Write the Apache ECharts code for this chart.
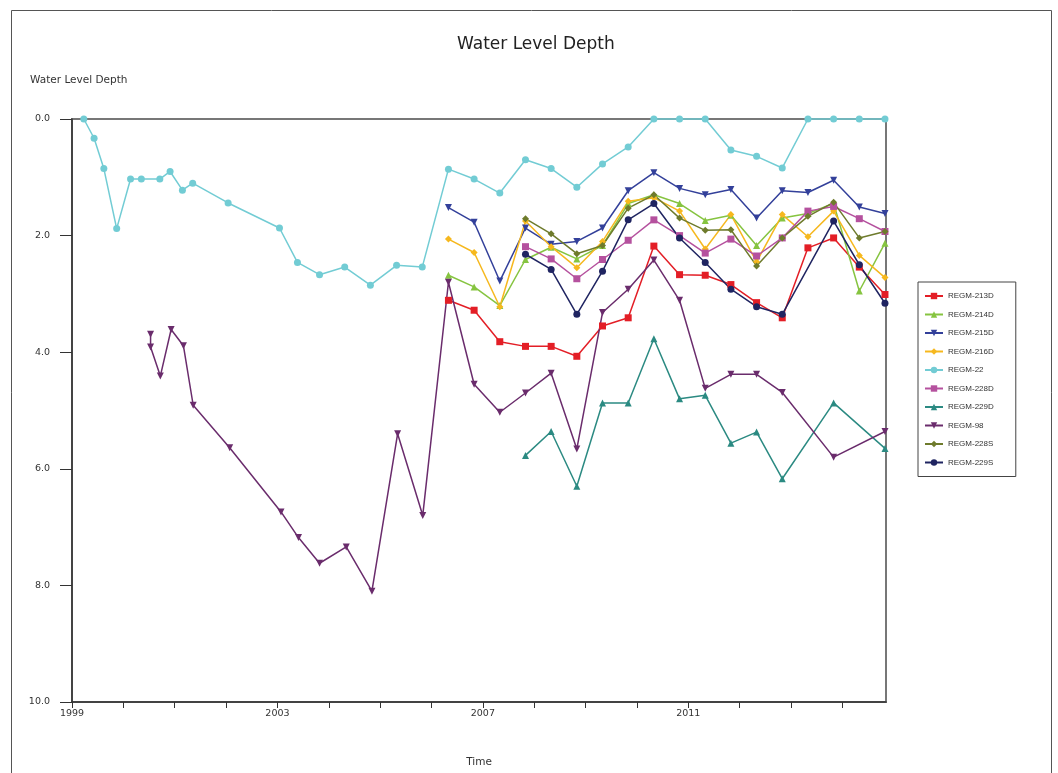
<!DOCTYPE html>
<html>
<head>
<meta charset="utf-8">
<script src="https://cdn.jsdelivr.net/npm/echarts@6/dist/echarts.min.js"></script>
<style>html,body{margin:0;padding:0;background:#fff}#c{width:1058px;height:773px}</style>
</head>
<body>
<div id="c"></div>
<script>
// Semiannual sampling dates shared by the monitoring wells (decimal years)
const dates = [2006.33, 2006.83, 2007.33, 2007.83, 2008.33, 2008.83, 2009.33, 2009.83, 2010.33, 2010.83, 2011.33, 2011.83, 2012.33, 2012.83, 2013.33, 2013.83, 2014.33, 2014.83];

const regm213D = [3.11, 3.28, 3.82, 3.90, 3.90, 4.07, 3.55, 3.41, 2.18, 2.67, 2.68, 2.84, 3.15, 3.41, 2.21, 2.04, 2.54, 3.01];
const regm214D = [2.68, 2.88, 3.20, 2.41, 2.20, 2.40, 2.17, 1.45, 1.30, 1.45, 1.74, 1.65, 2.17, 1.70, 1.62, 1.45, 2.95, 2.13];
const regm215D = [1.52, 1.77, 2.78, 1.87, 2.15, 2.10, 1.87, 1.23, 0.92, 1.19, 1.30, 1.21, 1.70, 1.23, 1.26, 1.05, 1.51, 1.62];
const regm216D = [2.06, 2.29, 3.22, 1.75, 2.19, 2.55, 2.10, 1.41, 1.35, 1.58, 2.23, 1.64, 2.45, 1.64, 2.02, 1.58, 2.34, 2.72];
const regm22 = [0.86, 1.03, 1.27, 0.70, 0.85, 1.17, 0.77, 0.48, 0.00, 0.00, 0.00, 0.53, 0.64, 0.84, 0.00, 0.00, 0.00, 0.00];
const regm228D = [null, null, null, 2.19, 2.40, 2.74, 2.41, 2.08, 1.73, 2.00, 2.30, 2.06, 2.35, 2.04, 1.58, 1.50, 1.71, 1.93];
const regm229D = [null, null, null, 5.77, 5.36, 6.30, 4.87, 4.87, 3.77, 4.80, 4.74, 5.56, 5.37, 6.17, null, 4.87, null, 5.65];
const regm98 = [2.80, 4.55, 5.03, 4.70, 4.36, 5.66, 3.32, 2.92, 2.42, 3.11, 4.62, 4.38, 4.38, 4.69, null, 5.80, null, 5.36];
const regm228S = [null, null, null, 1.71, 1.97, 2.31, 2.17, 1.53, 1.30, 1.70, 1.91, 1.90, 2.52, 2.04, 1.67, 1.43, 2.04, 1.93];
const regm229S = [null, null, null, 2.32, 2.58, 3.35, 2.61, 1.73, 1.45, 2.04, 2.46, 2.92, 3.22, 3.35, null, 1.75, 2.50, 3.16];

// Earlier records (before 2006)
const regm22EarlyDates = [1999.23, 1999.43, 1999.62, 1999.87, 2000.14, 2000.35, 2000.71, 2000.91, 2001.15, 2001.35, 2002.04, 2003.04, 2003.39, 2003.82, 2004.31, 2004.81, 2005.32, 2005.82];
const regm22Early = [0.00, 0.33, 0.85, 1.88, 1.03, 1.03, 1.03, 0.90, 1.22, 1.10, 1.44, 1.87, 2.46, 2.67, 2.54, 2.85, 2.51, 2.54];
const regm98EarlyDates = [2000.53, 2000.53, 2000.72, 2000.93, 2001.17, 2001.36, 2002.07, 2003.07, 2003.41, 2003.82, 2004.34, 2004.84, 2005.34, 2005.83];
const regm98Early = [3.69, 3.91, 4.41, 3.61, 3.89, 4.91, 5.64, 6.74, 7.18, 7.62, 7.34, 8.10, 5.40, 6.80];

const seriesNames = ['REGM-213D', 'REGM-214D', 'REGM-215D', 'REGM-216D', 'REGM-22', 'REGM-228D', 'REGM-229D', 'REGM-98', 'REGM-228S', 'REGM-229S'];
const xTickLabels = [1999, 2003, 2007, 2011];

function pairs(xs, ys) {
  const out = [];
  for (let i = 0; i < xs.length; i++) if (ys[i] !== null && ys[i] !== undefined) out.push([xs[i], ys[i]]);
  return out;
}

const downTri = 'path://M0,0 L10,0 L5,9 Z';
const defs = [
  { data: pairs(dates, regm213D), color: '#e31e26', symbol: 'rect' },
  { data: pairs(dates, regm214D), color: '#86c440', symbol: 'triangle' },
  { data: pairs(dates, regm215D), color: '#33409a', symbol: downTri },
  { data: pairs(dates, regm216D), color: '#f6b81e', symbol: 'diamond' },
  { data: pairs(regm22EarlyDates, regm22Early).concat(pairs(dates, regm22)), color: '#72ccd4', symbol: 'circle' },
  { data: pairs(dates, regm228D), color: '#b5519e', symbol: 'rect' },
  { data: pairs(dates, regm229D), color: '#2b8a82', symbol: 'triangle' },
  { data: pairs(regm98EarlyDates, regm98Early).concat(pairs(dates, regm98)), color: '#6a2c6c', symbol: downTri },
  { data: pairs(dates, regm228S), color: '#6e7b2c', symbol: 'diamond' },
  { data: pairs(dates, regm229S), color: '#1f2461', symbol: 'circle' }
];

const chart = echarts.init(document.getElementById('c'));
const font = 'Liberation Sans, Arial, sans-serif';
const wide = 'DejaVu Sans, Verdana, sans-serif';
chart.setOption({
  animation: false,
  backgroundColor: '#fff',
  title: [
    { text: 'Water Level Depth', left: 452, top: 31, textStyle: { fontFamily: wide, fontSize: 17, fontWeight: 'normal', color: '#222' } },
    { text: 'Water Level Depth', left: 25, top: 70, textStyle: { fontFamily: wide, fontSize: 10.5, fontWeight: 'normal', color: '#333' } }
  ],
  graphic: [
    { type: 'rect', left: 9, top: 8, shape: { width: 1040, height: 800 }, style: { fill: 'none', stroke: '#555', lineWidth: 1 }, silent: true }
  ],
  legend: {
    orient: 'vertical', left: 918, top: 282,
    data: seriesNames,
    padding: [10, 22, 10, 6], itemGap: 10.5, itemWidth: 18, itemHeight: 8,
    borderColor: '#444', borderWidth: 1,
    textStyle: { fontFamily: font, fontSize: 8, color: '#333' }
  },
  grid: { left: 72, right: 172, top: 119, bottom: 69, show: true, borderColor: '#777', borderWidth: 2 },
  xAxis: {
    type: 'value', min: 1999, max: 2014.85, interval: 1,
    name: 'Time', nameLocation: 'middle', nameGap: 55,
    nameTextStyle: { fontFamily: wide, fontSize: 10.5, color: '#333' },
    axisLine: { onZero: false, lineStyle: { color: '#333', width: 1.5 } },
    axisTick: { length: 6, lineStyle: { color: '#333' } },
    splitLine: { show: false },
    axisLabel: {
      fontFamily: wide, fontSize: 9.5, color: '#333', margin: 7, showMaxLabel: false,
      formatter: v => (xTickLabels.indexOf(Math.round(v)) >= 0 && Math.abs(v - Math.round(v)) < 1e-6 ? String(Math.round(v)) : '')
    }
  },
  yAxis: {
    type: 'value', inverse: true, min: 0, max: 10, interval: 2,
    axisLine: { show: true, onZero: false, lineStyle: { color: '#333', width: 1.5 } },
    axisTick: { show: true, length: 12, lineStyle: { color: '#333' } },
    splitLine: { show: false },
    axisLabel: { fontFamily: wide, fontSize: 9.5, color: '#333', margin: 22, formatter: v => v.toFixed(1) }
  },
  series: defs.map((d, i) => ({
    name: seriesNames[i], type: 'line', data: d.data,
    symbol: d.symbol, symbolSize: 7,
    itemStyle: { color: d.color },
    lineStyle: { color: d.color, width: 1.5 },
    clip: false
  }))
});
</script>
</body>
</html>
